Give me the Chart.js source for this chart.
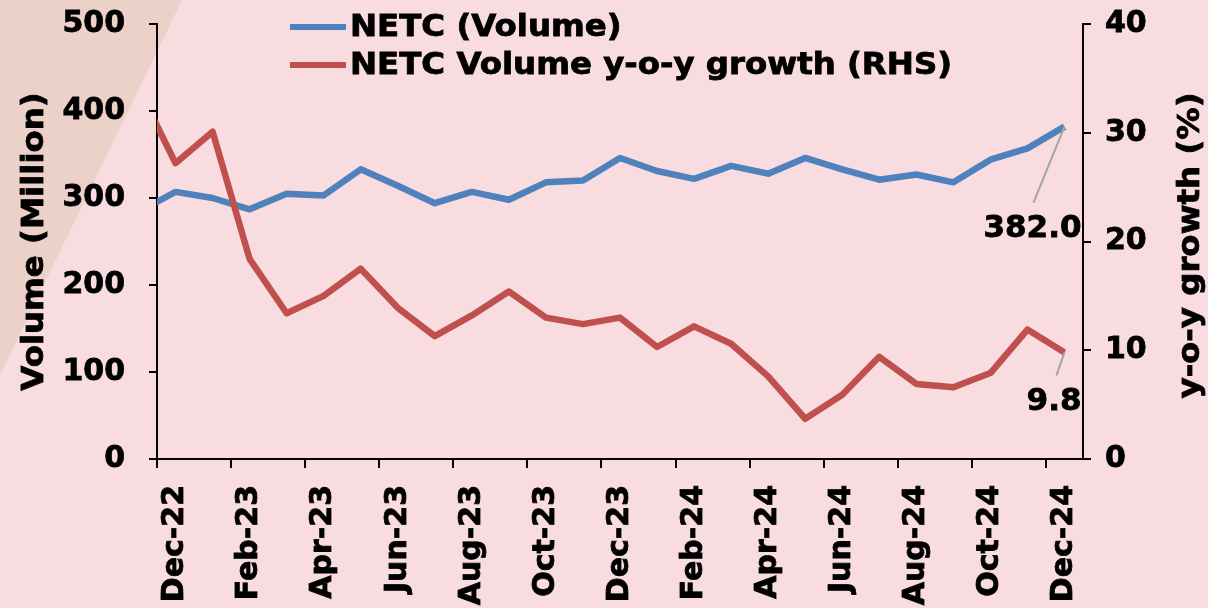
<!DOCTYPE html>
<html>
<head>
<meta charset="utf-8">
<script src="https://cdn.jsdelivr.net/npm/chart.js@4.4.1/dist/chart.umd.min.js"></script>
<style>
  html, body { margin: 0; padding: 0; background: #f8dcdf; }
  #wrap { width: 1208px; height: 608px; }
</style>
</head>
<body>
<div id="wrap"><canvas id="netcCanvas" width="1208" height="608"></canvas></div>
<script>
// months (Nov-22 sits just left of the axis, only its segment shows)
const months = [
  "Nov-22", "Dec-22", "Jan-23", "Feb-23", "Mar-23", "Apr-23", "May-23", "Jun-23",
  "Jul-23", "Aug-23", "Sep-23", "Oct-23", "Nov-23", "Dec-23", "Jan-24", "Feb-24",
  "Mar-24", "Apr-24", "May-24", "Jun-24", "Jul-24", "Aug-24", "Sep-24", "Oct-24",
  "Nov-24", "Dec-24"
];
// NETC volume, million
const volume = [284, 307, 300, 287, 305, 303, 333, 314, 294, 307, 298, 318, 320,
  346, 331, 322, 337, 328, 346, 333, 321, 327, 318, 344, 357, 382.0];
// y-o-y growth, %
const growth = [34.1, 27.2, 30.1, 18.4, 13.4, 15.0, 17.5, 13.9, 11.3, 13.2, 15.4, 13.0, 12.4,
  13.0, 10.3, 12.2, 10.6, 7.6, 3.7, 5.9, 9.4, 6.9, 6.6, 7.9, 11.9, 9.8];
const leftTicks = [0, 100, 200, 300, 400, 500];
const rightTicks = [0, 10, 20, 30, 40];

const FONT = "'DejaVu Sans', Verdana, sans-serif";
const BLUE = '#4f81bd';
const RED = '#c0504d';
const STRETCH = 1.08; // verdana-ish width

const bgPlugin = {
  id: 'bg',
  beforeDraw(chart) {
    const ctx = chart.ctx;
    ctx.save();
    ctx.fillStyle = '#f8dcdf';
    ctx.fillRect(0, 0, chart.width, chart.height);
    ctx.fillStyle = '#ecd1c9';
    ctx.beginPath();
    ctx.moveTo(0, 0);
    ctx.lineTo(182, 0);
    ctx.lineTo(0, 375);
    ctx.closePath();
    ctx.fill();
    ctx.restore();
  }
};

function heavyText(ctx, text, x, y) {
  ctx.fillText(text, x, y);
  ctx.strokeText(text, x, y);
}

const extrasPlugin = {
  id: 'extras',
  afterDraw(chart) {
    const ctx = chart.ctx;
    ctx.save();
    ctx.fillStyle = '#000';
    ctx.font = 'bold 30px ' + FONT;

    // axis titles, both read bottom to top
    const area = chart.chartArea;
    const midY = (area.top + area.bottom) / 2;
    ctx.textAlign = 'center';
    ctx.textBaseline = 'middle';
    ctx.lineWidth = 0.8;
    ctx.strokeStyle = '#000';
    ctx.save();
    ctx.translate(35, midY);
    ctx.rotate(-Math.PI / 2);
    ctx.scale(STRETCH, 1);
    heavyText(ctx, 'Volume (Million)', 0, 0);
    ctx.restore();
    ctx.save();
    ctx.translate(1191, midY + 4);
    ctx.rotate(-Math.PI / 2);
    ctx.scale(STRETCH, 1);
    heavyText(ctx, 'y-o-y growth (%)', 0, 0);
    ctx.restore();

    // legend
    ctx.textAlign = 'left';
    chart.data.datasets.forEach((ds, i) => {
      const y = 27 + i * 38;
      ctx.strokeStyle = ds.borderColor;
      ctx.lineWidth = 6;
      ctx.beginPath();
      ctx.moveTo(290, y);
      ctx.lineTo(346, y);
      ctx.stroke();
      ctx.save();
      ctx.translate(350, y + 1);
      ctx.scale(STRETCH, 1);
      ctx.strokeStyle = '#000';
      ctx.lineWidth = 0.8;
      heavyText(ctx, ds.label, 0, 0);
      ctx.restore();
    });

    // last-value labels with leader lines
    const last = months.length - 1;
    const pv = chart.getDatasetMeta(0).data[last];
    const pg = chart.getDatasetMeta(1).data[last];
    ctx.strokeStyle = '#a5a5a5';
    ctx.lineWidth = 2;
    ctx.beginPath();
    ctx.moveTo(pv.x, pv.y);
    ctx.lineTo(pv.x - 31, pv.y + 76);
    ctx.moveTo(pg.x, pg.y);
    ctx.lineTo(pg.x - 8, pg.y + 23);
    ctx.stroke();
    ctx.textAlign = 'right';
    ctx.font = 'bold 31px ' + FONT;
    ctx.strokeStyle = '#000';
    ctx.lineWidth = 0.8;
    heavyText(ctx, volume[last].toFixed(1), pv.x + 17, pv.y + 102);
    heavyText(ctx, growth[last].toFixed(1), pg.x + 17, pg.y + 50);
    ctx.restore();
  }
};

function fitY(width) {
  return (scale) => {
    scale.width = width;
    scale.paddingTop = 0;
    scale.paddingBottom = 0;
  };
}

const tickFont = { family: FONT, size: 30, weight: 'bold' };

const ctx = document.getElementById('netcCanvas').getContext('2d');
new Chart(ctx, {
  type: 'line',
  data: {
    labels: months,
    datasets: [
      {
        label: 'NETC (Volume)',
        data: volume,
        yAxisID: 'y',
        borderColor: BLUE,
        borderWidth: 6.5,
        pointRadius: 0,
        tension: 0,
        borderJoinStyle: 'round',
        clip: 0,
        order: 1
      },
      {
        label: 'NETC Volume y-o-y growth (RHS)',
        data: growth,
        yAxisID: 'y1',
        borderColor: RED,
        borderWidth: 6.5,
        pointRadius: 0,
        tension: 0,
        borderJoinStyle: 'round',
        clip: 0,
        order: 0
      }
    ]
  },
  options: {
    responsive: false,
    animation: false,
    devicePixelRatio: 1,
    layout: { padding: { top: 24, left: 0, right: 0, bottom: 0 } },
    plugins: {
      legend: { display: false },
      tooltip: { enabled: false }
    },
    scales: {
      x: {
        type: 'category',
        min: 'Dec-22',
        offset: true,
        afterFit(scale) {
          scale.height = 149;
          scale.paddingLeft = 0;
          scale.paddingRight = 0;
        },
        border: { display: true, color: '#000', width: 2 },
        grid: {
          offset: true,
          drawOnChartArea: false,
          drawTicks: true,
          tickLength: 9,
          lineWidth: 2,
          color: (c) => (c.index % 2 === 0 ? '#000' : 'rgba(0,0,0,0)')
        },
        ticks: {
          autoSkip: false,
          maxRotation: 90,
          minRotation: 90,
          padding: 17,
          color: '#000',
          textStrokeColor: '#000',
          textStrokeWidth: 0.8,
          font: tickFont,
          callback(value, index) {
            return index % 2 === 0 ? this.getLabelForValue(value) : '';
          }
        }
      },
      y: {
        position: 'left',
        min: leftTicks[0],
        max: leftTicks[leftTicks.length - 1],
        afterFit: fitY(157),
        afterBuildTicks(scale) { scale.ticks = leftTicks.map(v => ({ value: v })); },
        border: { display: true, color: '#000', width: 2 },
        grid: { drawOnChartArea: false, tickLength: 8, lineWidth: 2, color: '#000' },
        ticks: {
          padding: 24,
          color: '#000',
          textStrokeColor: '#000',
          textStrokeWidth: 0.8,
          font: tickFont
        }
      },
      y1: {
        position: 'right',
        min: rightTicks[0],
        max: rightTicks[rightTicks.length - 1],
        afterFit: fitY(125),
        afterBuildTicks(scale) { scale.ticks = rightTicks.map(v => ({ value: v })); },
        border: { display: true, color: '#000', width: 2 },
        grid: { drawOnChartArea: false, tickLength: 8, lineWidth: 2, color: '#000' },
        ticks: {
          padding: 14,
          color: '#000',
          textStrokeColor: '#000',
          textStrokeWidth: 0.8,
          font: tickFont
        }
      }
    }
  },
  plugins: [bgPlugin, extrasPlugin]
});
</script>
</body>
</html>
